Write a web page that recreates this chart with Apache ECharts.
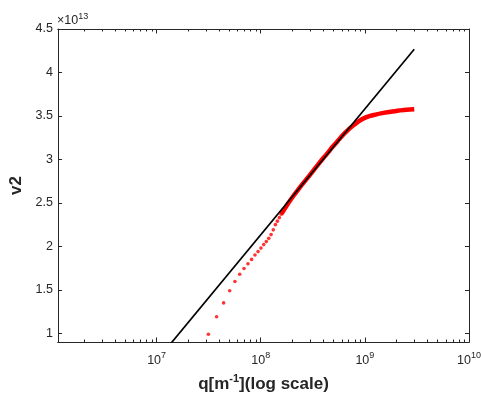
<!DOCTYPE html>
<html><head><meta charset="utf-8">
<script src="https://cdn.jsdelivr.net/npm/echarts@6/dist/echarts.min.js"></script>
<style>html,body{margin:0;padding:0;background:#fff}#c{width:481px;height:403px}</style>
</head><body><div id="c"></div>
<script>
// ---- data (v2 in units of 1e13) ----
const xMajorTicks = [1e7, 1e8, 1e9, 1e10];
const xMinorTicks = [2e6,3e6,4e6,5e6,6e6,7e6,8e6,9e6,
                     2e7,3e7,4e7,5e7,6e7,7e7,8e7,9e7,
                     2e8,3e8,4e8,5e8,6e8,7e8,8e8,9e8,
                     2e9,3e9,4e9,5e9,6e9,7e9,8e9,9e9];
const yTicks = [1, 1.5, 2, 2.5, 3, 3.5, 4, 4.5];

// discrete red points (low q)
const qDots = [3.14e7, 3.77e7, 4.40e7, 5.03e7, 5.65e7, 6.28e7, 6.91e7, 7.54e7, 8.17e7, 8.80e7,
               9.42e7, 1.005e8, 1.068e8, 1.131e8, 1.194e8, 1.257e8, 1.319e8, 1.382e8, 1.445e8,
               1.508e8, 1.571e8];
const vDots = [0.99, 1.19, 1.35, 1.49, 1.595, 1.68, 1.745, 1.80, 1.85, 1.90,
               1.94, 1.98, 2.02, 2.055, 2.092, 2.135, 2.19, 2.25, 2.29,
               2.33, 2.37];
// dense red points (high q), overlapping into a thick band
const qDense = [1.571e8, 1.634e8, 1.759e8, 1.885e8, 2.073e8, 2.262e8, 2.513e8, 2.827e8, 3.142e8,
                3.519e8, 3.958e8, 4.398e8, 4.901e8, 5.466e8, 6.095e8, 6.786e8, 7.54e8, 8.51e8,
                9.84e8, 1.122e9, 1.259e9, 1.425e9, 1.70e9, 2.06e9, 2.51e9, 2.98e9];
const vDense = [2.37, 2.40, 2.46, 2.515, 2.585, 2.645, 2.715, 2.79, 2.86,
                2.935, 3.01, 3.075, 3.145, 3.21, 3.275, 3.33, 3.38, 3.43,
                3.475, 3.50, 3.515, 3.53, 3.545, 3.56, 3.57, 3.578];
// black fitted line
const qLine = [1.2e7, 2.98e9];
const vLine = [0.80, 4.267];

const X_MIN = 1.13e6, X_MAX = 1e10, Y_MIN = 0.9, Y_MAX = 4.5;

// ---- chart ----
const AX = '#262626';
const FONT = 'Liberation Sans, Arial, Helvetica, sans-serif';
const zip = (a, b) => a.map((v, i) => [v, b[i]]);

function xAxisCfg(pos, ticks, len, withLabels) {
  const cfg = {
    type: 'log', logBase: 10, min: X_MIN, max: X_MAX, position: pos,
    axisLine: { show: true, onZero: false, lineStyle: { color: AX, width: 1 } },
    axisTick: { show: true, inside: true, length: len, customValues: ticks, lineStyle: { color: AX, width: 1 } },
    minorTick: { show: false }, splitLine: { show: false },
    axisLabel: { show: false }
  };
  if (withLabels) {
    cfg.axisLabel = {
      show: true, customValues: ticks, margin: 9, fontFamily: FONT,
      formatter: v => '{b|10}{s|' + Math.round(Math.log10(v)) + '}',
      rich: {
        b: { fontSize: 12.5, lineHeight: 20, color: AX, fontFamily: FONT },
        s: { fontSize: 9, lineHeight: 9, verticalAlign: 'top', color: AX, fontFamily: FONT }
      }
    };
    cfg.name = '{b|q[m}{s|-1}{b|](log scale)}';
    cfg.nameLocation = 'middle';
    cfg.nameGap = 31;
    cfg.nameTextStyle = {
      rich: {
        b: { fontSize: 17, fontWeight: 'bold', lineHeight: 22, color: AX, fontFamily: FONT },
        s: { fontSize: 11, fontWeight: 'bold', lineHeight: 11, verticalAlign: 'top', color: AX, fontFamily: FONT }
      }
    };
  }
  return cfg;
}
function yAxisCfg(pos, withLabels) {
  const cfg = {
    type: 'value', min: Y_MIN, max: Y_MAX, position: pos,
    axisLine: { show: true, onZero: false, lineStyle: { color: AX, width: 1 } },
    axisTick: { show: true, inside: true, length: 4, customValues: yTicks, lineStyle: { color: AX, width: 1 } },
    splitLine: { show: false },
    axisLabel: { show: false }
  };
  if (withLabels) {
    cfg.axisLabel = { show: true, customValues: yTicks, margin: 5, fontSize: 12.5, color: AX, fontFamily: FONT };
    cfg.name = 'v2';
    cfg.nameLocation = 'middle';
    cfg.nameGap = 30;
    cfg.nameTextStyle = { fontSize: 17, fontWeight: 'bold', color: AX, fontFamily: FONT };
  }
  return cfg;
}

const chart = echarts.init(document.getElementById('c'), null, { renderer: 'canvas' });
chart.setOption({
  animation: false,
  backgroundColor: '#fff',
  title: {
    text: '{b|×10}{s|13}', left: 57, top: 12, padding: 0,
    textStyle: { fontWeight: 'normal', rich: {
      b: { fontSize: 12.5, fontWeight: 'normal', lineHeight: 18, color: AX, fontFamily: FONT },
      s: { fontSize: 9, fontWeight: 'normal', lineHeight: 9, verticalAlign: 'top', color: AX, fontFamily: FONT }
    } }
  },
  grid: { left: 58, top: 29, right: 12, bottom: 61, containLabel: false, outerBoundsMode: 'none' },
  xAxis: [
    xAxisCfg('bottom', xMajorTicks, 4.5, true),
    xAxisCfg('bottom', xMinorTicks, 2.5, false),
    xAxisCfg('top', xMajorTicks, 4.5, false),
    xAxisCfg('top', xMinorTicks, 2.5, false)
  ],
  yAxis: [ yAxisCfg('left', true), yAxisCfg('right', false) ],
  series: [
    { type: 'scatter', xAxisIndex: 0, yAxisIndex: 0, data: zip(qDots, vDots),
      symbol: 'circle', symbolSize: 3.6, itemStyle: { color: '#ff0000' }, z: 2, silent: true },
    { type: 'line', xAxisIndex: 0, yAxisIndex: 0, data: zip(qDense, vDense), smooth: 0.3,
      showSymbol: false, lineStyle: { color: '#ff0000', width: 4.5 }, z: 2, silent: true },
    { type: 'line', xAxisIndex: 0, yAxisIndex: 0, data: zip(qLine, vLine), clip: true,
      showSymbol: false, lineStyle: { color: '#000000', width: 1.7 }, z: 3, silent: true }
  ]
});
</script>
</body></html>
